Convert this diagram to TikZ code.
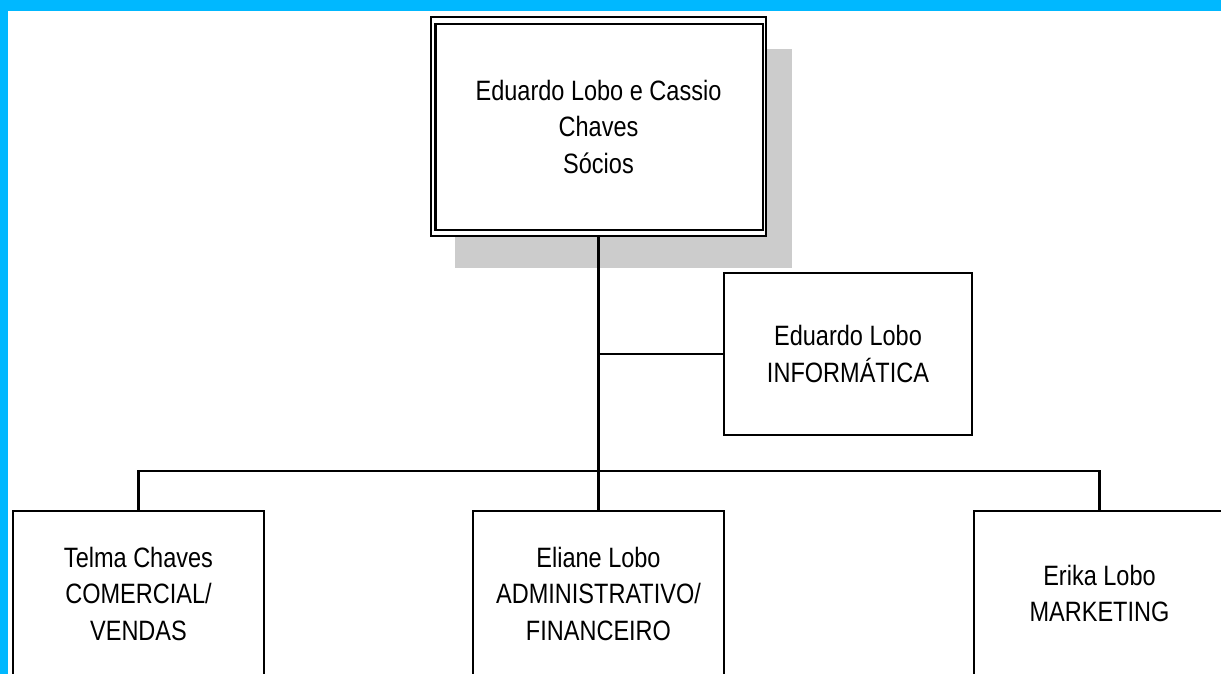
\documentclass[tikz,border=0pt]{standalone}
\usepackage{fontspec}
\setmainfont{Liberation Sans}[FakeStretch=0.84]
\definecolor{frame}{RGB}{0,184,255}
\definecolor{shadowgray}{RGB}{204,204,204}
\begin{document}
\begin{tikzpicture}[x=1pt,y=-1pt,
  box/.style={draw=black,line width=2pt,fill=white,inner sep=0pt,align=center,
    font=\fontsize{28}{36.5}\selectfont},
  conn/.style={draw=black,line width=2.2pt}]
\useasboundingbox (0,0) rectangle (1221,674);
\clip (0,0) rectangle (1221,674);
\fill[white] (0,0) rectangle (1221,674);
% frame bands
\fill[frame] (0,0) rectangle (1221,11);
\fill[frame] (0,0) rectangle (8,674);
% shadow of top box
\fill[shadowgray] (455,49) rectangle (792,268);
% top box
\node[box,line width=1.5pt,minimum width=335pt,minimum height=219pt] (top) at (598.5,126.5)
  {Eduardo Lobo e Cassio\\Chaves\\S\'ocios};
\draw[line width=2.5pt] ([shift={(5,8)}]top.north west) rectangle ([shift={(-4,-7)}]top.south east);
% informatica
\node[box,minimum width=248pt,minimum height=162pt] (info) at (848,354)
  {Eduardo Lobo\\INFORM\'ATICA};
% bottom boxes
\node[box,minimum width=251pt,minimum height=165pt] (telma) at (138.5,593.5)
  {Telma Chaves\\COMERCIAL/\\VENDAS};
\node[box,minimum width=251pt,minimum height=165pt] (mid) at (598.5,593.5)
  {Eliane Lobo\\ADMINISTRATIVO/\\FINANCEIRO};
\node[box,minimum width=251pt,minimum height=165pt] (erika) at (1099.5,593.5)
  {Erika Lobo\\MARKETING};
% connectors
\coordinate (j) at (598.5,471);
\draw[conn] (top.south) -- (j);
\draw[conn] (top.south |- info.west) -- (info.west);
\draw[conn] (telma.north) -- (telma.north |- j) -- (erika.north |- j) -- (erika.north);
\draw[conn] (j) -- (mid.north);
\end{tikzpicture}
\end{document}
